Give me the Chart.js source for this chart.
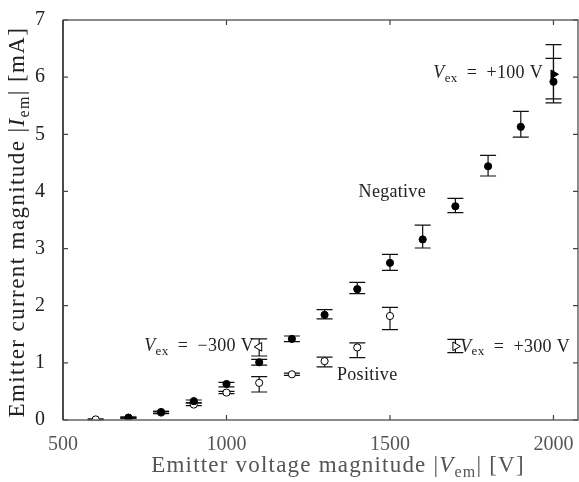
<!DOCTYPE html>
<html>
<head>
<meta charset="utf-8">
<script src="https://cdn.jsdelivr.net/npm/chart.js@4"></script>
<style>
  html, body { margin: 0; padding: 0; background: #fff; }
  #wrap { width: 579px; height: 482px; }
</style>
</head>
<body>
<div id="wrap"><canvas id="plot" width="579" height="482"></canvas></div>
<script>
// negative emitter polarity
const negX  = [700, 800, 900, 1000, 1100, 1200, 1300, 1400, 1500, 1600, 1700, 1800, 1900, 2000];
const negY  = [0.04, 0.14, 0.33, 0.63, 1.01, 1.42, 1.84, 2.29, 2.75, 3.16, 3.74, 4.44, 5.13, 5.92];
const negLo = [0.03, 0.12, 0.30, 0.58, 0.96, 1.37, 1.77, 2.21, 2.62, 3.01, 3.63, 4.27, 4.95, 5.55];
const negHi = [0.05, 0.15, 0.35, 0.66, 1.06, 1.47, 1.93, 2.41, 2.90, 3.41, 3.88, 4.63, 5.40, 6.57];

// positive emitter polarity
const posX  = [600, 700, 800, 900, 1000, 1100, 1200, 1300, 1400, 1500];
const posY  = [0.01, 0.04, 0.13, 0.27, 0.48, 0.65, 0.80, 1.03, 1.27, 1.82];
const posLo = [0.00, 0.03, 0.11, 0.25, 0.46, 0.49, 0.78, 0.93, 1.09, 1.58];
const posHi = [0.02, 0.05, 0.15, 0.30, 0.50, 0.76, 0.82, 1.10, 1.35, 1.97];

// extractor voltage runs (single points)
const exM300 = {x: 1100, y: 1.28, lo: 1.12, hi: 1.42};
const exP100 = {x: 2000, y: 6.05, lo: 5.62, hi: 6.33};
const exP300 = {x: 1700, y: 1.29, lo: 1.18, hi: 1.41};

const xTicks = [500, 1000, 1500, 2000];
const yTicks = [0, 1, 2, 3, 4, 5, 6, 7];

const FONT = '"Liberation Serif", "DejaVu Serif", serif';
const EQ = '\u2002=\u2002';

const notes = [
  {parts: [['Negative', 'n']], x: 1610, y: 3.98, align: 'right'},
  {parts: [['Positive', 'n']], x: 1338, y: 0.79, align: 'left'},
  {parts: [['V', 'i'], ['ex', 's'], [EQ + '\u2212300 V', 'n']], x: 1084, y: 1.29, align: 'right'},
  {parts: [['V', 'i'], ['ex', 's'], [EQ + '+100 V', 'n']], x: 1968, y: 6.06, align: 'right'},
  {parts: [['V', 'i'], ['ex', 's'], [EQ + '+300 V', 'n']], x: 1715, y: 1.28, align: 'left'}
];

function pts(xs, ys) { return xs.map((x, i) => ({x: x, y: ys[i]})); }

function fontFor(kind, size) {
  if (kind === 'i') return 'italic ' + size + 'px ' + FONT;
  if (kind === 's') return Math.round(size * 0.7) + 'px ' + FONT;
  return size + 'px ' + FONT;
}
// text with italic and subscript pieces
function richWidth(ctx, parts, size) {
  let w = 0;
  parts.forEach(p => {
    ctx.font = fontFor(p[1], size);
    w += ctx.measureText(p[0]).width;
  });
  return w;
}
function drawRich(ctx, parts, x, y, align, size, color, spacing) {
  ctx.save();
  ctx.letterSpacing = (spacing || 0) + 'px';
  const w = richWidth(ctx, parts, size);
  let cx = align === 'right' ? x - w : (align === 'center' ? x - w / 2 : x);
  ctx.fillStyle = color;
  ctx.textBaseline = 'middle';
  ctx.textAlign = 'left';
  parts.forEach(p => {
    ctx.font = fontFor(p[1], size);
    const dy = p[1] === 's' ? size * 0.28 : 0;
    ctx.fillText(p[0], cx, y + dy);
    cx += ctx.measureText(p[0]).width;
  });
  ctx.restore();
}

const extras = {
  id: 'extras',
  beforeDatasetsDraw(chart) {
    const ctx = chart.ctx, xs = chart.scales.x, ys = chart.scales.y;
    const bars = [];
    negX.forEach((x, i) => bars.push([x, negLo[i], negHi[i]]));
    posX.forEach((x, i) => bars.push([x, posLo[i], posHi[i]]));
    [exM300, exP100, exP300].forEach(e => bars.push([e.x, e.lo, e.hi]));
    ctx.save();
    ctx.strokeStyle = '#111';
    ctx.lineWidth = 1.2;
    bars.forEach(b => {
      const px = xs.getPixelForValue(b[0]);
      const y1 = ys.getPixelForValue(b[1]), y2 = ys.getPixelForValue(b[2]);
      ctx.beginPath();
      ctx.moveTo(px, y1); ctx.lineTo(px, y2);
      ctx.moveTo(px - 8, y1); ctx.lineTo(px + 8, y1);
      ctx.moveTo(px - 8, y2); ctx.lineTo(px + 8, y2);
      ctx.stroke();
    });
    ctx.restore();
  },
  afterDraw(chart) {
    const ctx = chart.ctx, a = chart.chartArea, xs = chart.scales.x, ys = chart.scales.y;
    ctx.save();
    // frame
    ctx.lineWidth = 1.5;
    ctx.strokeStyle = '#666';
    ctx.beginPath();
    ctx.moveTo(a.left, a.top); ctx.lineTo(a.right, a.top); ctx.lineTo(a.right, a.bottom); ctx.lineTo(a.left, a.bottom);
    ctx.stroke();
    ctx.strokeStyle = '#111';
    ctx.beginPath();
    ctx.moveTo(a.left, a.top); ctx.lineTo(a.left, a.bottom);
    ctx.stroke();
    // inward ticks
    ctx.lineWidth = 1.2;
    ctx.strokeStyle = '#444';
    ctx.beginPath();
    xTicks.forEach(v => {
      const px = xs.getPixelForValue(v);
      ctx.moveTo(px, a.bottom); ctx.lineTo(px, a.bottom - 5);
      ctx.moveTo(px, a.top); ctx.lineTo(px, a.top + 5);
    });
    yTicks.forEach(v => {
      const py = ys.getPixelForValue(v);
      ctx.moveTo(a.left, py); ctx.lineTo(a.left + 5, py);
      ctx.moveTo(a.right, py); ctx.lineTo(a.right - 5, py);
    });
    ctx.stroke();
    ctx.restore();
    // axis titles
    drawRich(ctx, [['Emitter voltage magnitude |', 'n'], ['V', 'i'], ['em', 's'], ['| [V]', 'n']],
      338, 466, 'center', 23, '#555', 1.2);
    ctx.save();
    ctx.translate(18, 222);
    ctx.rotate(-Math.PI / 2);
    drawRich(ctx, [['Emitter current magnitude |', 'n'], ['I', 'i'], ['em', 's'], ['| [mA]', 'n']],
      0, 0, 'center', 23, '#222', 1.4);
    ctx.restore();
    // annotations
    notes.forEach(n => {
      drawRich(ctx, n.parts, xs.getPixelForValue(n.x), ys.getPixelForValue(n.y), n.align, 18, '#222', 0.3);
    });
  }
};

new Chart(document.getElementById('plot'), {
  type: 'scatter',
  data: {
    datasets: [
      {
        label: 'Negative',
        data: pts(negX, negY),
        pointStyle: 'circle',
        pointRadius: 3.6,
        backgroundColor: '#000',
        borderColor: '#000',
        borderWidth: 1
      },
      {
        label: 'Positive',
        data: pts(posX, posY),
        pointStyle: 'circle',
        pointRadius: 3.6,
        backgroundColor: '#fff',
        borderColor: '#000',
        borderWidth: 1
      },
      {
        label: 'Vex = -300 V',
        data: [{x: exM300.x, y: exM300.y}],
        pointStyle: 'triangle',
        pointRotation: -90,
        pointRadius: 5,
        backgroundColor: '#fff',
        borderColor: '#000',
        borderWidth: 1
      },
      {
        label: 'Vex = +100 V',
        data: [{x: exP100.x, y: exP100.y}],
        pointStyle: 'triangle',
        pointRotation: 90,
        pointRadius: 5,
        backgroundColor: '#000',
        borderColor: '#000',
        borderWidth: 1
      },
      {
        label: 'Vex = +300 V',
        data: [{x: exP300.x, y: exP300.y}],
        pointStyle: 'triangle',
        pointRotation: 90,
        pointRadius: 5,
        backgroundColor: '#fff',
        borderColor: '#000',
        borderWidth: 1
      }
    ]
  },
  plugins: [extras],
  options: {
    responsive: false,
    animation: false,
    layout: { autoPadding: false, padding: { top: 20, right: 1, left: 0, bottom: 0 } },
    plugins: { legend: { display: false }, tooltip: { enabled: false } },
    scales: {
      x: {
        type: 'linear',
        min: 500,
        max: 2075,
        grid: { display: false },
        border: { display: false },
        afterBuildTicks: s => { s.ticks = xTicks.map(v => ({value: v})); },
        afterFit: s => { s.height = 62; s.paddingLeft = 0; s.paddingRight = 0; },
        ticks: { color: '#555', padding: 5, font: { family: FONT, size: 20 }, callback: v => String(v) }
      },
      y: {
        type: 'linear',
        min: 0,
        max: 7,
        grid: { display: false },
        border: { display: false },
        afterBuildTicks: s => { s.ticks = yTicks.map(v => ({value: v})); },
        afterFit: s => { s.width = 63; s.paddingTop = 0; s.paddingBottom = 0; },
        ticks: { color: '#222', padding: 10, font: { family: FONT, size: 20 }, callback: v => String(v) }
      }
    }
  }
});
</script>
</body>
</html>
